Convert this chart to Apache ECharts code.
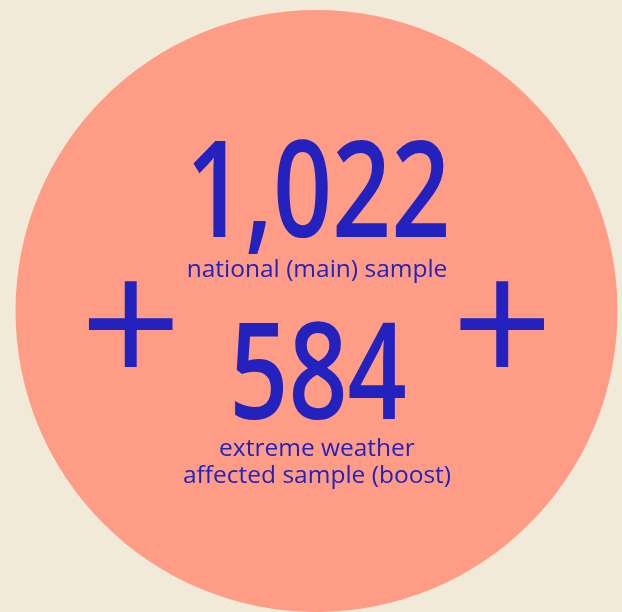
<!DOCTYPE html>
<html>
<head>
<meta charset="utf-8">
<script src="https://cdn.jsdelivr.net/npm/echarts@6/dist/echarts.min.js"></script>
<style>
  html, body { margin: 0; padding: 0; background: #F1EAD9; }
  #chart { width: 622px; height: 612px; }
</style>
</head>
<body>
<div id="chart"></div>
<script>
// Data
const sampleNames = ['national (main) sample', 'extreme weather\naffected sample (boost)'];
const sampleValues = [1022, 584];
const joinSymbol = '+';

const BLUE = '#2322BE';
const SALMON = '#FE9C85';

const chart = echarts.init(document.getElementById('chart'), null, { renderer: 'canvas' });

const fmt = v => v.toLocaleString('en-US');

function txt(text, x, y, size, extra) {
  return Object.assign({
    type: 'text', x: x, y: y, z: 100, silent: true,
    style: Object.assign({ text: text, fontFamily: 'Open Sans', fontSize: size,
      fill: BLUE, align: 'center', verticalAlign: 'middle' }, (extra && extra.style) || {})
  }, extra && extra.el || {});
}

const option = {
  backgroundColor: '#F1EAD9',
  animation: false,
  series: [{
    type: 'pie',
    silent: true,
    z: 1,
    center: [316.5, 311],
    radius: [0, 301],
    label: { show: false },
    labelLine: { show: false },
    itemStyle: { color: SALMON, borderWidth: 0 },
    data: [{ name: 'total sample', value: sampleValues.reduce((a, b) => a + b, 0) }]
  }],
  graphic: {
    elements: [
      txt(fmt(sampleValues[0]), 318, 199, 134, { style: { fontWeight: 600 }, el: { scaleX: 0.772 } }),
      txt(sampleNames[0], 317, 270, 24.5),
      txt(fmt(sampleValues[1]), 318, 381, 134, { style: { fontWeight: 600 }, el: { scaleX: 0.772 } }),
      txt(sampleNames[1], 317, 463, 24.5, { style: { lineHeight: 27 } }),
      txt(joinSymbol, 131, 336, 178),
      txt(joinSymbol, 502.5, 336, 178)
    ]
  }
};
chart.setOption(option);
</script>
</body>
</html>
